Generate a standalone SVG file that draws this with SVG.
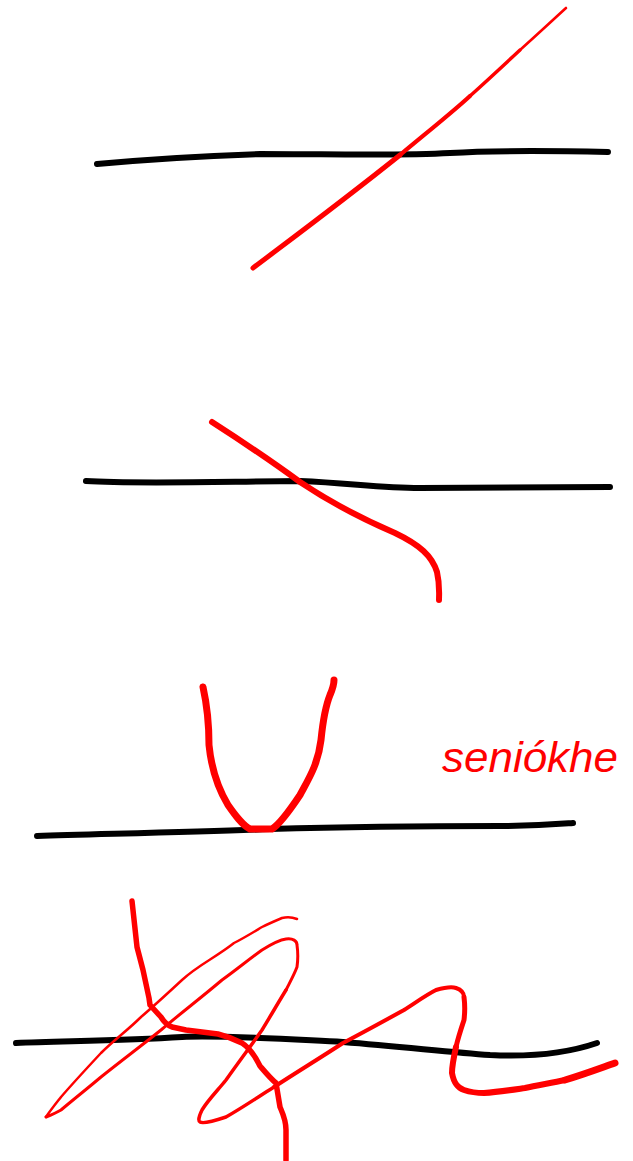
<svg xmlns="http://www.w3.org/2000/svg" width="633" height="1161" viewBox="0 0 633 1161">
<style>
.ax{fill:none;stroke:#000;stroke-width:6;stroke-linecap:round;stroke-linejoin:round}
.r{fill:none;stroke:#ff0000;stroke-linecap:round;stroke-linejoin:round}
.lbl{font-family:"Liberation Sans",sans-serif;font-style:italic;font-size:42px;fill:#ff0000}
</style>
<rect width="633" height="1161" fill="#fff"/>
<g id="sketch1">
<path class="ax" d="M97,164 C150,159 200,156 260,154 C330,154 400,156 450,153 C500,150 560,151 608,152"/>
<path class="r" stroke-width="5" d="M253,268 C290,240 340,203 400,155"/>
<path class="r" stroke-width="4.2" d="M400,155 C430,130 455,110 470,96"/>
<path class="r" stroke-width="3.4" d="M470,96 C490,78 505,64 520,50"/>
<path class="r" stroke-width="2.6" d="M520,50 C540,32 555,18 566,8"/>
</g>
<g id="sketch2">
<path class="ax" d="M86,481 C130,484 200,482 300,481 C350,483 380,488 420,488 C480,488 540,487 610,487"/>
<path class="r" stroke-width="6" d="M212,422 C240,440 270,460 300,482 C330,502 360,518 395,533 C420,545 432,556 437,572 C440,585 439,595 439,600"/>
</g>
<g id="sketch3">
<path class="ax" d="M37,836 C100,834 200,832 270,829 C340,827 420,826 500,826 C540,826 560,824 573,823"/>
<path class="r" stroke-width="7" d="M203,687 C207,705 209,730 209,745 C211,765 216,785 228,805 C235,815 242,825 250,829 L272,829 C280,824 290,810 300,795 C308,780 318,765 321,740 C323,720 326,705 330,695 C333,688 334,684 334,680"/>
<text class="lbl" x="442" y="772" textLength="176" lengthAdjust="spacingAndGlyphs">seniókhe</text>
</g>
<g id="sketch4">
<path class="ax" d="M16,1043 C61,1041 121,1041 182,1037 C222,1035 282,1039 343,1042 C404,1047 450,1052 490,1055 C530,1057 565,1054 597,1043"/>
<path class="r" stroke-width="5.5" d="M132,901 L137,947 L143,970 L149,998 L150,1005 L161,1017 C164,1022 167,1025 172,1027 L186,1030 L218,1034 C230,1037 236,1040 242,1043 C250,1048 256,1058 260,1066 C266,1073 271,1079 276,1083 L280,1107 C283,1114 286,1120 286,1130 L286,1160"/>
<path class="r" stroke-width="2.5" d="M297,919 C292,917 286,917 282,918 C275,921 268,924 262,927 C252,933 244,938 234,943 C215,958 198,965 182,980 C168,993 155,1005 141,1017 C128,1030 114,1040 101,1053 C87,1068 74,1082 61,1097 C54,1106 50,1111 46,1117"/>
<path class="r" stroke-width="3" d="M46,1117 C51,1115 56,1113 61,1110 C74,1099 88,1088 101,1077 C121,1061 141,1046 161,1030 C181,1013 202,997 222,980 C236,970 248,960 262,950 C270,945 278,940 286,939 C293,938 297,941 297,945 C298,952 298,960 297,967 C294,975 290,982 286,990"/>
<path class="r" stroke-width="3.5" d="M286,990 C278,1003 270,1017 262,1030 C250,1047 238,1063 226,1080 C218,1090 208,1100 202,1110 C199,1116 198,1121 200,1122 C203,1124 214,1121 226,1117 C242,1108 258,1097 274,1087"/>
<path class="r" stroke-width="4" d="M274,1087 C297,1072 320,1058 343,1043 C364,1032 384,1021 404,1010 C415,1003 426,995 436,990 C443,988 450,986 456,988 C462,990 464,993 464,997"/>
<path class="r" stroke-width="5" d="M464,997 C465,1005 465,1012 464,1020 C461,1029 458,1038 456,1047"/>
<path class="r" stroke-width="6" d="M456,1047 C454,1056 452,1065 452,1073 C454,1084 458,1088 464,1090 C470,1092 477,1093 484,1093 C498,1092 511,1090 525,1088 C538,1085 552,1083 565,1080"/>
<path class="r" stroke-width="7" d="M565,1080 C582,1075 598,1069 615,1063"/>
</g>
</svg>
